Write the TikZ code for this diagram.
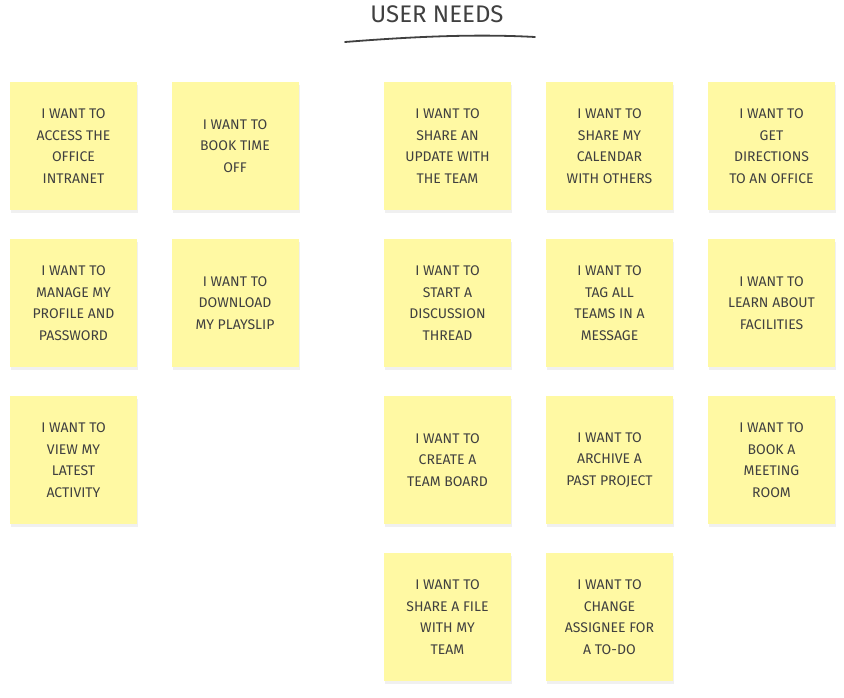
\documentclass[tikz,border=0pt]{standalone}
\usepackage{fontspec}
\setmainfont{Fira Sans}
\usetikzlibrary{shadows}
\definecolor{sticky}{HTML}{FFF9A3}
\tikzset{
  note/.style={fill=sticky, minimum width=127pt, minimum height=128pt,
    align=center, font=\fontsize{14}{21.5}\selectfont,
    text=black!75, drop shadow={shadow xshift=1pt, shadow yshift=-3pt, opacity=0.12}},
}
\begin{document}
\begin{tikzpicture}[x=1pt, y=-1pt]
    \useasboundingbox (0,0) rectangle (844,698);

    % title
    \node (title) at (437,14) {\fontsize{24}{28}\selectfont\color{black!75}USER NEEDS};
    \draw [black!75, line width=1.8pt, line cap=round] (345,42) .. controls (420,36) and (480,34) .. (535,37);

    % left group
    \node [note] (n1) at (73.5,146) {I WANT TO\\ACCESS THE\\OFFICE\\INTRANET};
    \node [note] (n2) at (235,146) {I WANT TO\\BOOK TIME\\OFF};
    \node [note] (n3) at (73.5,303) {I WANT TO\\MANAGE MY\\PROFILE AND\\PASSWORD};
    \node [note] (n4) at (235,303) {I WANT TO\\DOWNLOAD\\MY PLAYSLIP};
    \node [note] (n5) at (73.5,460) {I WANT TO\\VIEW MY\\LATEST\\ACTIVITY};

    % right group
    \node [note] (n6) at (447.5,146) {I WANT TO\\SHARE AN\\UPDATE WITH\\THE TEAM};
    \node [note] (n7) at (609.5,146) {I WANT TO\\SHARE MY\\CALENDAR\\WITH OTHERS};
    \node [note] (n8) at (771.5,146) {I WANT TO\\GET\\DIRECTIONS\\TO AN OFFICE};
    \node [note] (n9) at (447.5,303) {I WANT TO\\START A\\DISCUSSION\\THREAD};
    \node [note] (n10) at (609.5,303) {I WANT TO\\TAG ALL\\TEAMS IN A\\MESSAGE};
    \node [note] (n11) at (771.5,303) {I WANT TO\\LEARN ABOUT\\FACILITIES};
    \node [note] (n12) at (447.5,460) {I WANT TO\\CREATE A\\TEAM BOARD};
    \node [note] (n13) at (609.5,460) {I WANT TO\\ARCHIVE A\\PAST PROJECT};
    \node [note] (n14) at (771.5,460) {I WANT TO\\BOOK A\\MEETING\\ROOM};
    \node [note] (n15) at (447.5,617) {I WANT TO\\SHARE A FILE\\WITH MY\\TEAM};
    \node [note] (n16) at (609.5,617) {I WANT TO\\CHANGE\\ASSIGNEE FOR\\A TO-DO};
\end{tikzpicture}
\end{document}
